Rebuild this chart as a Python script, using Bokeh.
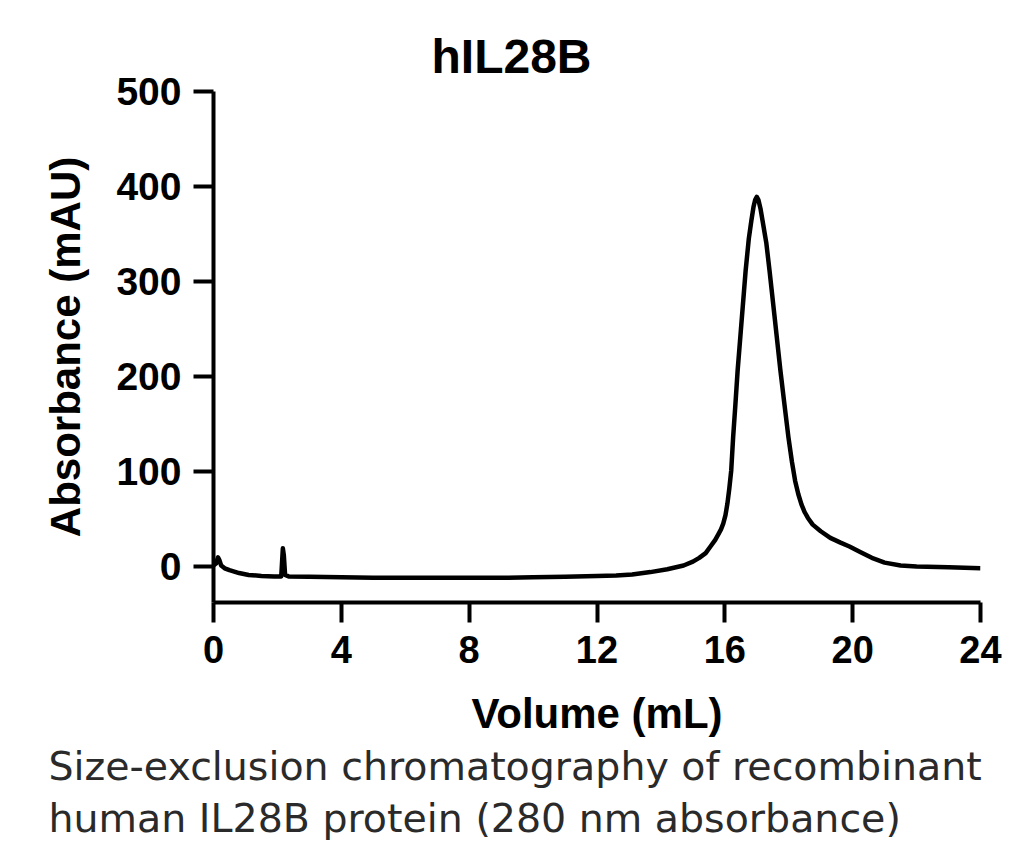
from bokeh.plotting import figure
from bokeh.models import Range1d, FixedTicker, Title
from bokeh.embed import file_html
from bokeh.resources import INLINE

# Elution profile (Volume in mL, Absorbance in mAU)
volume = [0.0, 0.08, 0.14, 0.18, 0.24, 0.35, 0.5, 0.8, 1.1, 1.5, 1.9, 2.12, 2.17, 2.2, 2.24, 2.35,
          3.0, 4.0, 5.0, 6.0, 7.0, 8.0, 9.0, 10.0, 11.0, 12.0, 12.6, 13.1, 13.67, 14.2, 14.71,
          15.0, 15.2, 15.4, 15.55, 15.7, 15.8, 15.88, 15.95, 16.02, 16.08, 16.14, 16.2, 16.26, 16.33,
          16.4, 16.5, 16.6, 16.65, 16.75, 16.83, 16.9, 16.95, 17.0, 17.05, 17.12, 17.18, 17.3,
          17.4, 17.55, 17.74, 17.86, 17.99, 18.1, 18.2, 18.3, 18.4, 18.5, 18.6, 18.75, 19.0, 19.3, 19.62,
          19.9, 20.25, 20.6, 21.0, 21.5, 22.0, 23.0, 24.0]
absorbance = [1, 3, 9.5, 7, 1, -2, -4, -7, -9, -10, -10.5, -10.5, 19, 12, -9, -10.5,
              -11, -11.5, -12, -12, -12, -12, -12, -11.5, -11, -10, -9.5, -8.5, -6, -3, 1,
              5, 9, 14, 21, 28, 34, 39, 45, 54, 66, 82, 101, 136, 170,
              206, 248, 290, 311, 345, 364, 379, 386, 389, 386, 376, 364, 340,
              311, 265, 206, 172, 136, 110, 90, 76, 65, 57, 51, 44, 37, 30, 25,
              21, 15, 9, 4, 1, 0, -1, -2]

x_ticks = [0, 4, 8, 12, 16, 20, 24]
y_ticks = [0, 100, 200, 300, 400, 500]

title_text = "hIL28B"
x_label = "Volume (mL)"
y_label = "Absorbance (mAU)"
caption_1 = "Size-exclusion chromatography of recombinant"
caption_2 = "human IL28B protein  (280 nm absorbance)"

p = figure(width=1024, height=866, output_backend="svg", toolbar_location=None,
           x_range=Range1d(0, 24), y_range=Range1d(-38, 500),
           min_border_left=213, min_border_right=44, min_border_top=91, min_border_bottom=264)
p.title = None
p.outline_line_color = None
p.background_fill_color = "white"
p.border_fill_color = "white"
p.xgrid.visible = False
p.ygrid.visible = False

p.line(volume, absorbance, line_color="black", line_width=4.5, line_join="round")

for ax in (p.xaxis[0], p.yaxis[0]):
    ax.axis_line_width = 4
    ax.axis_line_color = "black"
    ax.major_tick_line_width = 4
    ax.major_tick_line_color = "black"
    ax.major_tick_out = 20
    ax.major_tick_in = 0
    ax.minor_tick_line_color = None
    ax.major_label_text_font = "Liberation Sans"
    ax.major_label_text_font_style = "bold"
    ax.major_label_text_color = "black"
    ax.axis_label_text_font = "Liberation Sans"
    ax.axis_label_text_font_style = "bold"
    ax.axis_label_text_color = "black"
    ax.axis_label_text_font_size = "42px"

p.xaxis[0].ticker = FixedTicker(ticks=x_ticks)
p.yaxis[0].ticker = FixedTicker(ticks=y_ticks)
p.xaxis[0].major_label_text_font_size = "38px"
p.yaxis[0].major_label_text_font_size = "39px"
p.xaxis[0].major_label_standoff = 13
p.yaxis[0].major_label_standoff = 12
p.xaxis[0].axis_label_standoff = 24
p.yaxis[0].axis_label_standoff = 24
p.xaxis[0].axis_label = x_label
p.yaxis[0].axis_label = y_label

t = Title(text=title_text, align="left", offset=218, text_font="Liberation Sans",
          text_font_style="bold", text_font_size="48px", text_color="black", standoff=18)
p.add_layout(t, "above")

cap_font = "DejaVu Sans"
c1 = Title(text=caption_1, align="left", offset=-165, text_font=cap_font,
           text_font_style="normal", text_font_size="39.5px", text_color="#2a2a2a", standoff=2)
c2 = Title(text=caption_2, align="left", offset=-165, text_font=cap_font,
           text_font_style="normal", text_font_size="39.5px", text_color="#2a2a2a", standoff=6)
p.add_layout(c1, "below")
p.add_layout(c2, "below")

open("out.html", "w").write(file_html(p, INLINE))
